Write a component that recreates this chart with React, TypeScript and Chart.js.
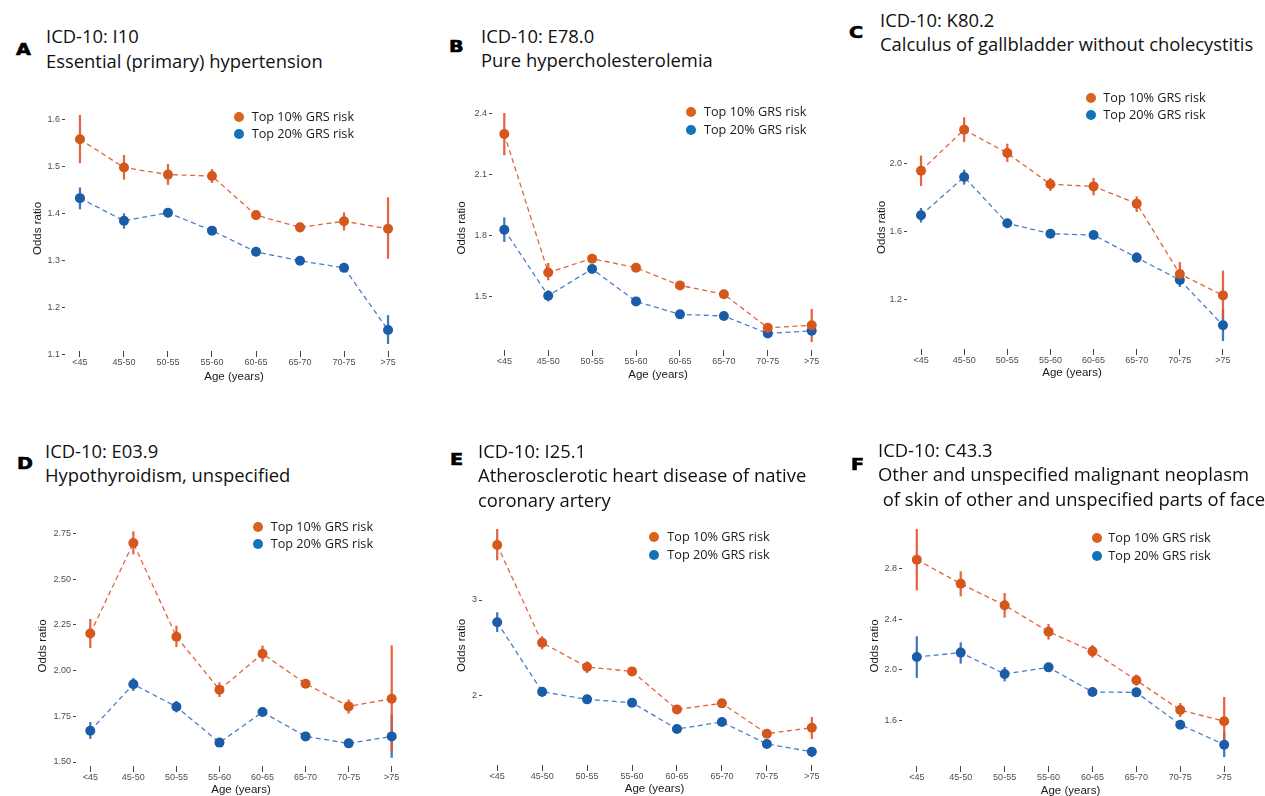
import React, { useEffect, useRef } from 'react';
import { Chart, registerables } from 'chart.js';

Chart.register(...registerables);

// ---------- shared categories / names ----------
const ageGroups = ['<45', '45-50', '50-55', '55-60', '60-65', '65-70', '70-75', '>75'];
const seriesNames = ['Top 10% GRS risk', 'Top 20% GRS risk'];

// ---------- Panel A: I10 ----------
const aYTicks = ['1.1', '1.2', '1.3', '1.4', '1.5', '1.6'];
const aTop10 = [1.557, 1.497, 1.482, 1.479, 1.396, 1.370, 1.383, 1.367];
const aTop10Lo = [1.507, 1.472, 1.461, 1.465, 1.387, 1.360, 1.364, 1.304];
const aTop10Hi = [1.608, 1.523, 1.504, 1.493, 1.405, 1.379, 1.401, 1.433];
const aTop20 = [1.432, 1.384, 1.401, 1.363, 1.318, 1.299, 1.284, 1.152];
const aTop20Lo = [1.409, 1.368, 1.392, 1.357, 1.314, 1.295, 1.279, 1.123];
const aTop20Hi = [1.454, 1.399, 1.408, 1.368, 1.322, 1.304, 1.289, 1.183];

// ---------- Panel B: E78.0 ----------
const bYTicks = ['1.5', '1.8', '2.1', '2.4'];
const bTop10 = [2.301, 1.618, 1.686, 1.641, 1.554, 1.510, 1.345, 1.357];
const bTop10Lo = [2.198, 1.581, 1.666, 1.627, 1.541, 1.495, 1.326, 1.276];
const bTop10Hi = [2.403, 1.663, 1.704, 1.655, 1.567, 1.525, 1.363, 1.436];
const bTop20 = [1.829, 1.503, 1.635, 1.475, 1.411, 1.403, 1.317, 1.330];
const bTop20Lo = [1.770, 1.477, 1.617, 1.462, 1.400, 1.390, 1.304, 1.307];
const bTop20Hi = [1.888, 1.528, 1.651, 1.488, 1.423, 1.415, 1.330, 1.353];

// ---------- Panel C: K80.2 ----------
const cYTicks = ['1.2', '1.6', '2.0'];
const cTop10 = [1.957, 2.197, 2.060, 1.877, 1.865, 1.764, 1.352, 1.227];
const cTop10Lo = [1.869, 2.127, 2.010, 1.840, 1.815, 1.717, 1.288, 1.093];
const cTop10Hi = [2.043, 2.267, 2.113, 1.912, 1.912, 1.805, 1.420, 1.370];
const cTop20 = [1.696, 1.920, 1.649, 1.588, 1.580, 1.448, 1.317, 1.052];
const cTop20Lo = [1.655, 1.877, 1.629, 1.575, 1.565, 1.420, 1.278, 0.962];
const cTop20Hi = [1.737, 1.961, 1.664, 1.602, 1.594, 1.476, 1.356, 1.145];

// ---------- Panel D: E03.9 ----------
const dYTicks = ['1.50', '1.75', '2.00', '2.25', '2.50', '2.75'];
const dTop10 = [2.202, 2.697, 2.185, 1.895, 2.092, 1.928, 1.804, 1.846];
const dTop10Lo = [2.125, 2.637, 2.130, 1.857, 2.050, 1.908, 1.766, 1.556];
const dTop10Hi = [2.280, 2.759, 2.243, 1.934, 2.134, 1.948, 1.840, 2.136];
const dTop20 = [1.671, 1.925, 1.802, 1.606, 1.773, 1.640, 1.602, 1.640];
const dTop20Lo = [1.628, 1.890, 1.773, 1.591, 1.751, 1.628, 1.584, 1.525];
const dTop20Hi = [1.717, 1.957, 1.832, 1.620, 1.795, 1.652, 1.620, 1.757];

// ---------- Panel E: I25.1 ----------
const eYTicks = ['2', '3'];
const eTop10 = [3.575, 2.554, 2.300, 2.254, 1.857, 1.920, 1.603, 1.666];
const eTop10Lo = [3.418, 2.488, 2.240, 2.223, 1.829, 1.885, 1.571, 1.551];
const eTop10Hi = [3.739, 2.617, 2.355, 2.286, 1.885, 1.955, 1.634, 1.774];
const eTop20 = [2.767, 2.042, 1.962, 1.927, 1.652, 1.725, 1.495, 1.415];
const eTop20Lo = [2.669, 1.990, 1.934, 1.899, 1.624, 1.693, 1.467, 1.362];
const eTop20Hi = [2.868, 2.084, 1.990, 1.955, 1.680, 1.753, 1.523, 1.460];

// ---------- Panel F: C43.3 ----------
const fYTicks = ['1.6', '2.0', '2.4', '2.8'];
const fTop10 = [2.868, 2.679, 2.509, 2.301, 2.146, 1.918, 1.684, 1.595];
const fTop10Lo = [2.629, 2.582, 2.414, 2.241, 2.099, 1.878, 1.631, 1.403];
const fTop10Hi = [3.107, 2.774, 2.603, 2.359, 2.193, 1.960, 1.736, 1.784];
const fTop20 = [2.101, 2.136, 1.968, 2.020, 1.826, 1.823, 1.568, 1.411];
const fTop20Lo = [1.939, 2.052, 1.912, 1.999, 1.805, 1.794, 1.542, 1.316];
const fTop20Hi = [2.262, 2.214, 2.020, 2.041, 1.847, 1.849, 1.595, 1.505];

// ---------- styles ----------
const ORANGE_PT = '#D4571C';
const BLUE_PT = '#1B5CA8';
const ORANGE_LINE = '#E2643F';
const BLUE_LINE = '#4A7ECB';
const ORANGE_ERR = 'rgba(228,83,46,0.9)';
const BLUE_ERR = 'rgba(44,104,181,0.9)';
const LEGEND_COLORS = ['#D9621C', '#1273B8'];
const AXIS_FONT = 'Liberation Sans, Arial, Helvetica, sans-serif';
const TITLE_FONT = '"Open Sans", "Noto Sans", sans-serif';

type Layout = {
  left: number; right: number; top: number; bottom: number;
  xMin: number; xMax: number; yMin: number; yMax: number;
  yTitleX: number; xTitleY: number;
  letterX: number; letterY: number; titleX: number; titleY: number;
  legX: number; legY1: number; legY2: number; legTextX: number;
};

type Panel = {
  letter: string; title: string[]; yTicks: string[];
  top10: number[]; top10Lo: number[]; top10Hi: number[];
  top20: number[]; top20Lo: number[]; top20Hi: number[];
  layout: Layout;
};

const panels: Panel[] = [
  {
    letter: 'A', title: ['ICD-10: I10', 'Essential (primary) hypertension'], yTicks: aYTicks,
    top10: aTop10, top10Lo: aTop10Lo, top10Hi: aTop10Hi, top20: aTop20, top20Lo: aTop20Lo, top20Hi: aTop20Hi,
    layout: {
      left: 65.4, right: 402.6, top: 100, bottom: 356.5, xMin: -0.34, xMax: 7.34, yMin: 1.0947, yMax: 1.6404,
      yTitleX: 38.3, xTitleY: 377, letterX: 16, letterY: 50, titleX: 46, titleY: 37.5,
      legX: 239.3, legY1: 117.3, legY2: 134, legTextX: 251.7,
    },
  },
  {
    letter: 'B', title: ['ICD-10: E78.0', 'Pure hypercholesterolemia'], yTicks: bYTicks,
    top10: bTop10, top10Lo: bTop10Lo, top10Hi: bTop10Hi, top20: bTop20, top20Lo: bTop20Lo, top20Hi: bTop20Hi,
    layout: {
      left: 492, right: 824.3, top: 100, bottom: 356, xMin: -0.28, xMax: 7.28, yMin: 1.2055, yMax: 2.469,
      yTitleX: 461.7, xTitleY: 375, letterX: 449, letterY: 46.5, titleX: 481, titleY: 37,
      legX: 690.7, legY1: 112.3, legY2: 130, legTextX: 704,
    },
  },
  {
    letter: 'C', title: ['ICD-10: K80.2', 'Calculus of gallbladder without cholecystitis'], yTicks: cYTicks,
    top10: cTop10, top10Lo: cTop10Lo, top10Hi: cTop10Hi, top20: cTop20, top20Lo: cTop20Lo, top20Hi: cTop20Hi,
    layout: {
      left: 907, right: 1236.7, top: 100, bottom: 355, xMin: -0.325, xMax: 7.325, yMin: 0.878, yMax: 2.3706,
      yTitleX: 881.7, xTitleY: 373, letterX: 849, letterY: 33, titleX: 880, titleY: 21,
      legX: 1090.7, legY1: 98.3, legY2: 115, legTextX: 1103.3,
    },
  },
  {
    letter: 'D', title: ['ICD-10: E03.9', 'Hypothyroidism, unspecified'], yTicks: dYTicks,
    top10: dTop10, top10Lo: dTop10Lo, top10Hi: dTop10Hi, top20: dTop20, top20Lo: dTop20Lo, top20Hi: dTop20Hi,
    layout: {
      left: 76, right: 405.9, top: 520, bottom: 772, xMin: -0.332, xMax: 7.332, yMin: 1.4454, yMax: 2.8227,
      yTitleX: 43.3, xTitleY: 790, letterX: 17, letterY: 463.5, titleX: 45, titleY: 452,
      legX: 258.3, legY1: 526.7, legY2: 544.3, legTextX: 270.7,
    },
  },
  {
    letter: 'E', title: ['ICD-10: I25.1', 'Atherosclerotic heart disease of native', 'coronary artery'], yTicks: eYTicks,
    top10: eTop10, top10Lo: eTop10Lo, top10Hi: eTop10Hi, top20: eTop20, top20Lo: eTop20Lo, top20Hi: eTop20Hi,
    layout: {
      left: 481.5, right: 826.9, top: 520, bottom: 771, xMin: -0.338, xMax: 7.338, yMin: 1.2132, yMax: 3.836,
      yTitleX: 461.7, xTitleY: 789, letterX: 450, letterY: 459.5, titleX: 478, titleY: 452,
      legX: 654, legY1: 537.3, legY2: 555, legTextX: 667.3,
    },
  },
  {
    letter: 'F', title: ['ICD-10: C43.3', 'Other and unspecified malignant neoplasm', ' of skin of other and unspecified parts of face'], yTicks: fYTicks,
    top10: fTop10, top10Lo: fTop10Lo, top10Hi: fTop10Hi, top20: fTop20, top20Lo: fTop20Lo, top20Hi: fTop20Hi,
    layout: {
      left: 901.5, right: 1238.8, top: 520, bottom: 772, xMin: -0.337, xMax: 7.337, yMin: 1.1957, yMax: 3.1806,
      yTitleX: 875, xTitleY: 790.5, letterX: 851, letterY: 464.5, titleX: 878, titleY: 451,
      legX: 1096.7, legY1: 538.3, legY2: 555.7, legTextX: 1108.3,
    },
  },
];

const Y_AXIS_W = 50;
const X_AXIS_H = 32;
const PAD_T = 10;
const PAD_R = 6;
const AXIS_TITLE_SIZE = 11.5;
const AXIS_TITLE_LH = AXIS_TITLE_SIZE * 1.2;

function PanelChart({ p }: { p: Panel }) {
  const ref = useRef<HTMLCanvasElement | null>(null);
  const L = p.layout;
  const cl = Math.round(L.left);
  const cr = Math.round(L.right);
  const ct = Math.round(L.top);
  const cb = Math.round(L.bottom);
  const canvasLeft = cl - Y_AXIS_W;
  const canvasTop = ct - PAD_T;
  const cw = cr - cl + Y_AXIS_W + PAD_R;
  const ch = cb - ct + PAD_T + X_AXIS_H;

  useEffect(() => {
    if (!ref.current) return;
    const pts = (v: number[]) => v.map((y, i) => ({ x: i, y }));
    const bars = (lo: number[], hi: number[]) => lo.map((l, i) => ({ x: i, y: [l, hi[i]] }));
    const yTitlePad = L.yTitleX - canvasLeft - AXIS_TITLE_LH / 2;
    const xTitlePad = cb + X_AXIS_H - L.xTitleY - AXIS_TITLE_LH / 2;

    const lineDs = (label: string, data: number[], lineColor: string, ptColor: string) => ({
      type: 'line',
      label,
      data: pts(data),
      borderColor: lineColor,
      borderWidth: 1.3,
      borderDash: [5, 3.5],
      fill: false,
      tension: 0,
      pointRadius: 5,
      pointHoverRadius: 5,
      pointBackgroundColor: ptColor,
      pointBorderColor: ptColor,
      pointBorderWidth: 0,
      order: 0,
    });
    const errDs = (lo: number[], hi: number[], color: string) => ({
      type: 'bar',
      data: bars(lo, hi),
      backgroundColor: color,
      borderWidth: 0,
      barThickness: 1.6,
      grouped: false,
      order: 1,
    });

    const chart = new Chart(ref.current, {
      type: 'line',
      data: {
        datasets: [
          lineDs(seriesNames[0], p.top10, ORANGE_LINE, ORANGE_PT),
          lineDs(seriesNames[1], p.top20, BLUE_LINE, BLUE_PT),
          errDs(p.top10Lo, p.top10Hi, ORANGE_ERR),
          errDs(p.top20Lo, p.top20Hi, BLUE_ERR),
        ] as any,
      },
      options: {
        animation: false,
        responsive: false,
        events: [],
        layout: { padding: { top: PAD_T, right: PAD_R, left: 0, bottom: 0 } },
        plugins: { legend: { display: false }, tooltip: { enabled: false } },
        scales: {
          x: {
            type: 'linear',
            offset: false,
            min: L.xMin,
            max: L.xMax,
            afterBuildTicks: (s: any) => { s.ticks = ageGroups.map((_, i) => ({ value: i })); },
            afterFit: (s: any) => { s.height = X_AXIS_H; },
            ticks: {
              callback: (v: any) => ageGroups[Math.round(Number(v))],
              autoSkip: false,
              maxRotation: 0,
              minRotation: 0,
              padding: 6.6,
              color: '#4d4d4d',
              font: { family: AXIS_FONT, size: 9 },
            },
            grid: { offset: false, drawOnChartArea: false, drawTicks: true, tickLength: -6, color: '#444', tickColor: '#444', tickWidth: 1 },
            border: { display: false },
            title: {
              display: true,
              text: 'Age (years)',
              color: '#1a1a1a',
              font: { family: AXIS_FONT, size: AXIS_TITLE_SIZE },
              padding: { top: 0, bottom: xTitlePad },
            },
          },
          y: {
            type: 'linear',
            beginAtZero: false,
            min: L.yMin,
            max: L.yMax,
            afterBuildTicks: (s: any) => { s.ticks = p.yTicks.map((t) => ({ value: parseFloat(t) })); },
            afterFit: (s: any) => { s.width = Y_AXIS_W; },
            ticks: {
              callback: (_v: any, i: number) => p.yTicks[i],
              autoSkip: false,
              padding: 2,
              color: '#4d4d4d',
              font: { family: AXIS_FONT, size: 9 },
            },
            grid: { drawOnChartArea: false, drawTicks: true, tickLength: 3, color: '#444', tickColor: '#444', tickWidth: 1 },
            border: { display: false },
            title: {
              display: true,
              text: 'Odds ratio',
              color: '#1a1a1a',
              font: { family: AXIS_FONT, size: AXIS_TITLE_SIZE },
              padding: { top: yTitlePad, bottom: 0 },
            },
          },
        },
      } as any,
    });
    return () => chart.destroy();
  }, []);

  return (
    <canvas
      ref={ref}
      width={cw}
      height={ch}
      style={{ position: 'absolute', left: canvasLeft, top: canvasTop, width: cw, height: ch }}
    />
  );
}

function PanelText({ p }: { p: Panel }) {
  const L = p.layout;
  const TITLE_SIZE = 18.4;
  const TITLE_LH = 24.5;
  return (
    <>
      <div
        style={{
          position: 'absolute', left: L.letterX, top: L.letterY - 7.7,
          fontFamily: '"DejaVu Sans", sans-serif', fontWeight: 900, fontSize: 16, lineHeight: '16px',
          color: '#000', transform: 'scaleX(1.2)', transformOrigin: 'left center',
          WebkitTextStroke: '0.6px #000',
        }}
      >
        {p.letter}
      </div>
      <div
        style={{
          position: 'absolute', left: L.titleX, top: L.titleY - 13.3,
          fontFamily: TITLE_FONT, fontSize: TITLE_SIZE, lineHeight: `${TITLE_LH}px`,
          color: '#111', whiteSpace: 'pre',
        }}
      >
        {p.title.map((t, i) => (
          <div key={i}>{t}</div>
        ))}
      </div>
      {seriesNames.map((name, i) => {
        const y = i === 0 ? L.legY1 : L.legY2;
        return (
          <React.Fragment key={name}>
            <div
              style={{
                position: 'absolute', left: L.legX - 5, top: y - 5, width: 10, height: 10,
                borderRadius: '50%', background: LEGEND_COLORS[i],
              }}
            />
            <div
              style={{
                position: 'absolute', left: L.legTextX, top: y - 10, fontFamily: TITLE_FONT,
                fontSize: 12.7, lineHeight: '18px', color: '#1a1a1a', whiteSpace: 'nowrap',
              }}
            >
              {name}
            </div>
          </React.Fragment>
        );
      })}
    </>
  );
}

export default function App() {
  return (
    <div
      style={{
        position: 'absolute', left: 0, top: 0, width: 1265, height: 796,
        overflow: 'hidden', background: '#fff',
      }}
    >
      {panels.map((p) => (
        <React.Fragment key={p.letter}>
          <PanelChart p={p} />
          <PanelText p={p} />
        </React.Fragment>
      ))}
    </div>
  );
}
